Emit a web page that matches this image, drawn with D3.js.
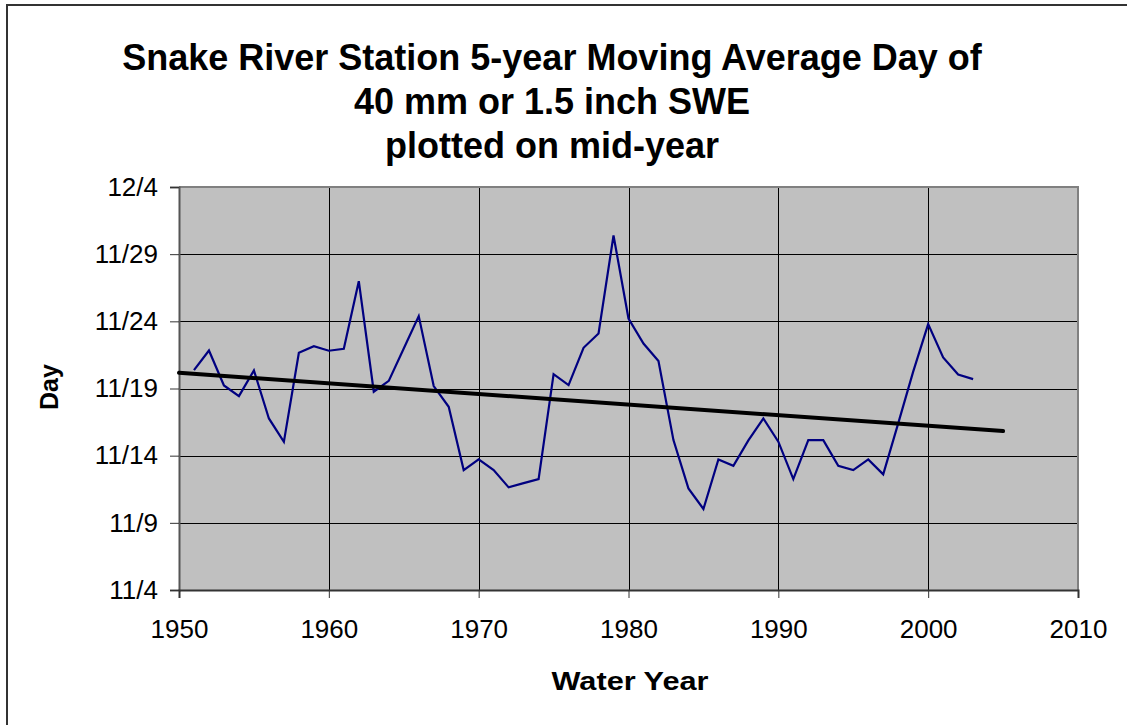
<!DOCTYPE html>
<html>
<head>
<meta charset="utf-8">
<script src="https://cdn.jsdelivr.net/npm/d3@7"></script>
<style>
  html, body { margin: 0; padding: 0; background: #fff; }
  svg { display: block; }
  text { font-family: "Liberation Sans", Arial, sans-serif; fill: #000; }
</style>
</head>
<body>
<svg id="chart" width="1127" height="725"></svg>
<script>
// ---- data (day values: day of November, so 12/4 = 34) ----
const years = [1951,1952,1953,1954,1955,1956,1957,1958,1959,1960,
               1961,1962,1963,1964,1965,1966,1967,1968,1969,1970,
               1971,1972,1973,1974,1975,1976,1977,1978,1979,1980,
               1981,1982,1983,1984,1985,1986,1987,1988,1989,1990,
               1991,1992,1993,1994,1995,1996,1997,1998,1999,2000,
               2001,2002,2003];
const movingAvgDay = [20.37,21.83,19.23,18.43,20.35,16.77,15.03,21.66,22.15,21.81,
                      21.96,26.99,18.76,19.57,21.98,24.39,19.18,17.64,12.93,13.72,
                      12.93,11.64,11.96,12.26,20.07,19.25,22.03,23.10,30.39,24.21,
                      22.35,21.04,15.16,11.56,10.03,13.72,13.25,15.14,16.77,15.04,
                      12.26,15.16,15.16,13.25,12.93,13.72,12.61,16.40,20.26,23.79,
                      21.31,20.04,19.70];
const trendYears = [1950, 2005];
const trendDay = [20.17, 15.83];
const xTicks = [1950,1960,1970,1980,1990,2000,2010];
const yTickValues = [4,9,14,19,24,29,34];
const yTickLabels = ["11/4","11/9","11/14","11/19","11/24","11/29","12/4"];
const titleLines = ["Snake River Station 5-year Moving Average Day of",
                    "40 mm or 1.5 inch SWE",
                    "plotted on mid-year"];

const svg = d3.select("#chart");
const L = 179, R = 1078, T = 187, B = 590;

// outer frame
svg.append("rect").attr("x", 7).attr("y", 5).attr("width", 1130).attr("height", 730)
  .attr("fill", "#fff").attr("stroke", "#333").attr("stroke-width", 2);

const x = d3.scaleLinear().domain([1950, 2010]).range([L, R]);
const y = d3.scaleLinear().domain([4, 34]).range([B, T]);

// plot background
svg.append("rect").attr("x", L).attr("y", T).attr("width", R - L).attr("height", B - T)
  .attr("fill", "#c0c0c0");

// gridlines
svg.append("g").selectAll("line").data(yTickValues.slice(1, -1)).join("line")
  .attr("x1", L).attr("x2", R)
  .attr("y1", d => Math.round(y(d)) + 0.5).attr("y2", d => Math.round(y(d)) + 0.5)
  .attr("stroke", "#000").attr("stroke-width", 1);
svg.append("g").selectAll("line").data(xTicks.slice(1, -1)).join("line")
  .attr("y1", T).attr("y2", B)
  .attr("x1", d => Math.round(x(d)) + 0.5).attr("x2", d => Math.round(x(d)) + 0.5)
  .attr("stroke", "#000").attr("stroke-width", 1);

// plot border (top/right gray)
svg.append("path")
  .attr("d", `M${L},${T}H${R}V${B}`)
  .attr("fill", "none").attr("stroke", "#808080").attr("stroke-width", 2);

// axes
const yAxis = d3.axisLeft(y).tickValues(yTickValues)
  .tickFormat((d, i) => yTickLabels[i]).tickSize(9).tickPadding(12);
const gy = svg.append("g").attr("transform", `translate(${L},0)`).call(yAxis);
gy.select(".domain").attr("stroke", "#555").attr("stroke-width", 2);
gy.selectAll(".tick line").attr("stroke", "#333");
gy.selectAll(".tick text").attr("font-size", 26).attr("font-family", "Liberation Sans, Arial, sans-serif");

const xAxis = d3.axisBottom(x).tickValues(xTicks).tickFormat(d3.format("d"))
  .tickSize(8).tickPadding(22);
const gx = svg.append("g").attr("transform", `translate(0,${B})`).call(xAxis);
gx.select(".domain").attr("stroke", "#333").attr("stroke-width", 2);
gx.selectAll(".tick line").attr("stroke", "#333");
gx.selectAll(".tick text").attr("font-size", 26).attr("font-family", "Liberation Sans, Arial, sans-serif");

// data line
const data = years.map((yr, i) => ({ yr, v: movingAvgDay[i] }));
svg.append("path").datum(data)
  .attr("d", d3.line().x(d => x(d.yr)).y(d => y(d.v)))
  .attr("fill", "none").attr("stroke", "#000080").attr("stroke-width", 2.2)
  .attr("stroke-linejoin", "miter");

// trend line
const trend = trendYears.map((yr, i) => ({ yr, v: trendDay[i] }));
svg.append("path").datum(trend)
  .attr("d", d3.line().x(d => x(d.yr)).y(d => y(d.v)))
  .attr("fill", "none").attr("stroke", "#000").attr("stroke-width", 4)
  .attr("stroke-linecap", "round");

// title
const titleBase = [70, 114, 158];
titleLines.forEach((t, i) => {
  svg.append("text").attr("x", 552).attr("y", titleBase[i])
    .attr("text-anchor", "middle").attr("font-size", 36).attr("font-weight", "bold")
    .text(t);
});

// axis titles
svg.append("text").attr("x", 630).attr("y", 690)
  .attr("text-anchor", "middle").attr("font-size", 25).attr("font-weight", "bold")
  .attr("textLength", 157).attr("lengthAdjust", "spacingAndGlyphs")
  .text("Water Year");
svg.append("text")
  .attr("transform", "translate(58,387) rotate(-90)")
  .attr("text-anchor", "middle").attr("font-size", 25).attr("font-weight", "bold")
  .text("Day");
</script>
</body>
</html>
